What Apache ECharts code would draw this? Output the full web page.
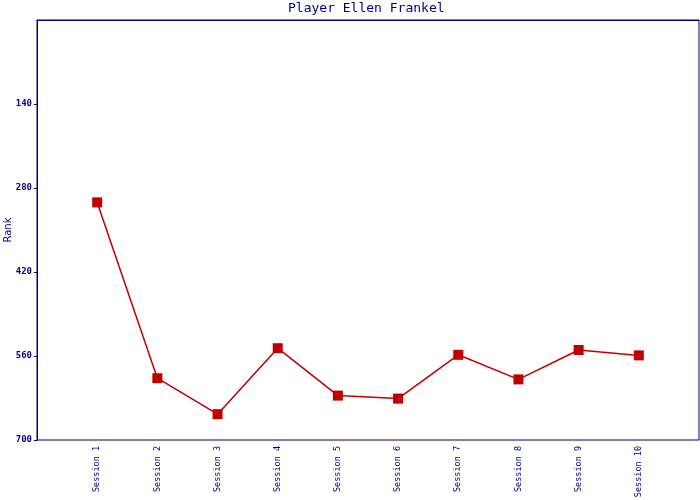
<!DOCTYPE html>
<html>
<head>
<meta charset="utf-8">
<script src="https://cdn.jsdelivr.net/npm/echarts@6/dist/echarts.min.js"></script>
<style>html,body{margin:0;padding:0;background:#fff}#c{width:700px;height:500px}</style>
</head>
<body>
<div id="c"></div>
<script>
var titleText = 'Player Ellen Frankel';
var sessions = ['Session 1','Session 2','Session 3','Session 4','Session 5','Session 6','Session 7','Session 8','Session 9','Session 10'];
var ranks = [304, 597, 657, 547, 626, 631, 558, 599, 550, 559];
var yTicks = [0, 140, 280, 420, 560, 700];

var navy = '#000080';
var cats = [''].concat(sessions).concat(['']);
var data = [null].concat(ranks).concat([null]);

var chart = echarts.init(document.getElementById('c'), null, {renderer: 'canvas'});
chart.setOption({
  animation: false,
  backgroundColor: '#fff',
  title: {
    text: titleText, left: 288, top: 2, padding: 0,
    textStyle: {color: navy, fontSize: 13, fontWeight: 'normal', fontFamily: 'DejaVu Sans Mono'}
  },
  grid: {left: 37, right: 1, top: 20, bottom: 60, show: true, borderColor: navy, borderWidth: 1, backgroundColor: 'transparent', containLabel: false, outerBoundsMode: 'none'},
  xAxis: {
    type: 'category', data: cats, boundaryGap: false,
    axisLine: {lineStyle: {color: navy}},
    axisTick: {show: false},
    axisLabel: {rotate: 90, fontSize: 8.5, fontFamily: 'DejaVu Sans Mono', color: navy, margin: 6, interval: 0},
    splitLine: {show: false}
  },
  yAxis: {
    type: 'value', inverse: true, min: yTicks[0], max: yTicks[yTicks.length-1], interval: yTicks[1]-yTicks[0],
    name: 'Rank', nameLocation: 'middle', nameGap: 24, nameMoveOverlap: false,
    nameTextStyle: {color: navy, fontSize: 10, fontFamily: 'DejaVu Sans'},
    axisLine: {show: true, lineStyle: {color: navy}},
    axisTick: {show: true, length: 3, lineStyle: {color: navy}},
    axisLabel: {fontSize: 9, fontFamily: 'DejaVu Sans Mono', fontWeight: 'bold', color: navy, margin: 5, showMinLabel: false},
    splitLine: {show: false}
  },
  series: [{
    type: 'line', data: data, connectNulls: false,
    symbol: 'rect', symbolSize: 10,
    lineStyle: {color: '#c00000', width: 1.5},
    itemStyle: {color: '#c00000'}
  }]
});
</script>
</body>
</html>
